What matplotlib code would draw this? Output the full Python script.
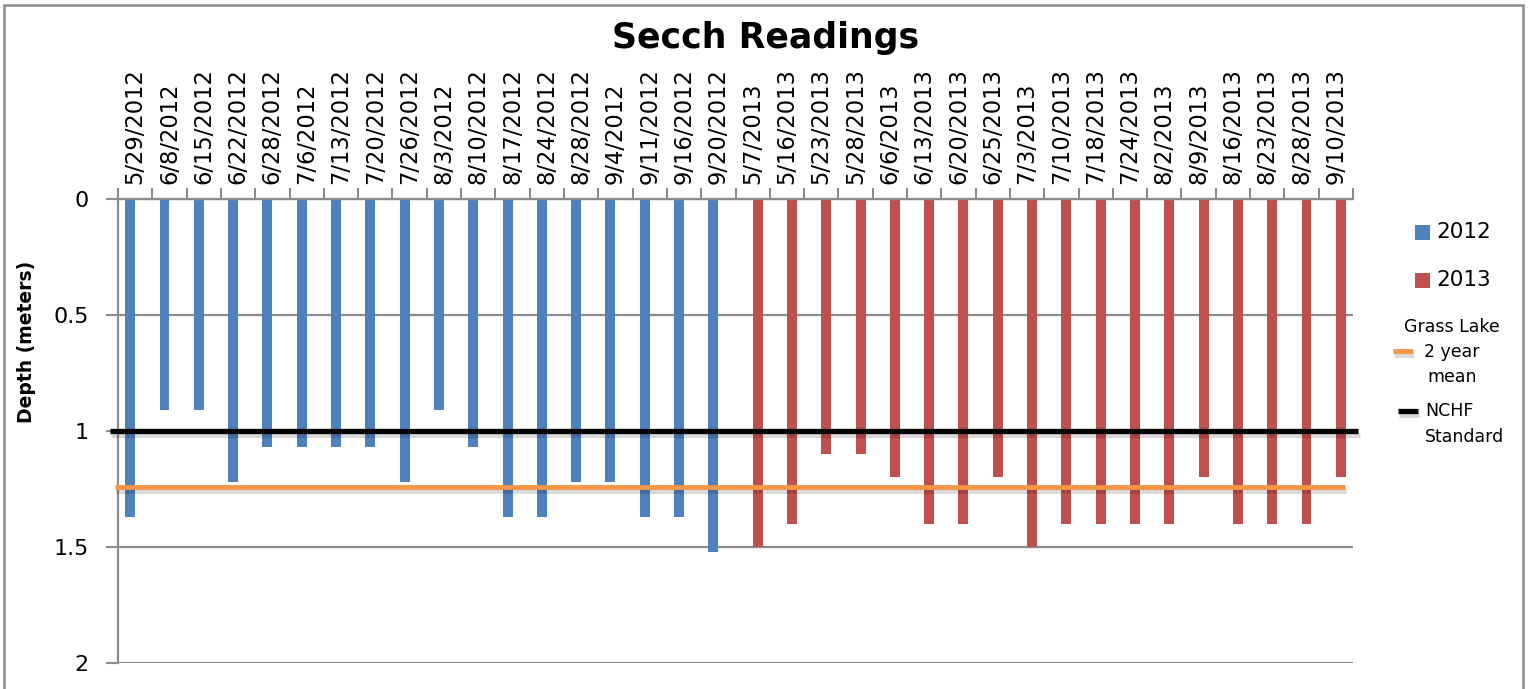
import matplotlib
matplotlib.use("Agg")
import matplotlib.pyplot as plt
import matplotlib.patheffects as pe
from matplotlib.patches import Rectangle
from matplotlib.lines import Line2D
import numpy as np

dates_2012 = ["5/29/2012", "6/8/2012", "6/15/2012", "6/22/2012", "6/28/2012", "7/6/2012",
              "7/13/2012", "7/20/2012", "7/26/2012", "8/3/2012", "8/10/2012", "8/17/2012",
              "8/24/2012", "8/28/2012", "9/4/2012", "9/11/2012", "9/16/2012", "9/20/2012"]
depth_2012 = [1.37, 0.91, 0.91, 1.22, 1.07, 1.07, 1.07, 1.07, 1.22, 0.91, 1.07, 1.37,
              1.37, 1.22, 1.22, 1.37, 1.37, 1.52]
dates_2013 = ["5/7/2013", "5/16/2013", "5/23/2013", "5/28/2013", "6/6/2013", "6/13/2013",
              "6/20/2013", "6/25/2013", "7/3/2013", "7/10/2013", "7/18/2013", "7/24/2013",
              "8/2/2013", "8/9/2013", "8/16/2013", "8/23/2013", "8/28/2013", "9/10/2013"]
depth_2013 = [1.5, 1.4, 1.1, 1.1, 1.2, 1.4, 1.4, 1.2, 1.5, 1.4, 1.4, 1.4,
              1.4, 1.2, 1.4, 1.4, 1.4, 1.2]
mean_2yr = 1.24
nchf_standard = 1.0
yticks = [0, 0.5, 1, 1.5, 2]
ytick_labels = ["0", "0.5", "1", "1.5", "2"]

BLUE = "#4F81BD"
RED = "#C0504D"
ORANGE = "#F79646"
GRID = "#8C8C8C"

W, H = 1530, 689
fig = plt.figure(figsize=(W / 100, H / 100), dpi=100)
ax = fig.add_axes([118 / W, 1 - 663 / H, (1353 - 118) / W, (663 - 199) / H])

labels = dates_2012 + dates_2013
n = len(labels)
x12 = np.arange(len(dates_2012))
x13 = np.arange(len(dates_2012), n)
bw = 0.29
off = 0.145
ax.bar(x12 - off, depth_2012, width=bw, color=BLUE, zorder=2)
ax.bar(x13 + off, depth_2013, width=bw, color=RED, zorder=2)

shadow = [pe.SimpleLineShadow(offset=(1, -3), alpha=0.15, shadow_color="black"), pe.Normal()]
ax.plot([-0.587, 35.27], [mean_2yr, mean_2yr], color=ORANGE, lw=3.5, zorder=3,
        clip_on=False, solid_capstyle="butt", path_effects=shadow)
ax.plot([-0.733, 35.65], [nchf_standard, nchf_standard], color="black", lw=3.8, zorder=4,
        clip_on=False, solid_capstyle="butt", path_effects=shadow)

ax.set_xlim(-0.5, n - 0.5)
ax.set_ylim(2, 0)
ax.set_yticks(yticks)
ax.set_yticklabels(ytick_labels, fontsize=16)
ax.yaxis.grid(True, color=GRID, lw=1.6, zorder=0)
ax.set_axisbelow(True)

# category axis at top
ax.xaxis.tick_top()
ax.set_xticks(np.arange(n))
ax.set_xticklabels(labels, rotation=90, fontsize=16.3)
ax.set_xticks(np.arange(n + 1) - 0.5, minor=True)
ax.tick_params(axis="x", which="major", length=0, pad=11)
ax.tick_params(axis="x", which="minor", length=8, width=1.5, color=GRID, direction="out")
ax.tick_params(axis="y", length=9, width=1.5, color=GRID, pad=12)

for s in ["right", "bottom"]:
    ax.spines[s].set_visible(False)
ax.spines["left"].set_color(GRID)
ax.spines["left"].set_linewidth(1.6)
ax.spines["top"].set_color(GRID)
ax.spines["top"].set_linewidth(1.6)

ax.set_ylabel("Depth (meters)", fontsize=13.5, fontweight="bold")
ax.yaxis.set_label_coords((36 - 118) / (1353 - 118), (663 - 342) / (663 - 199))

fig.text(766 / W, 1 - 48 / H, "Secch Readings", ha="center", va="baseline",
         fontsize=25, fontweight="bold")

# legend (drawn in figure pixel coordinates)
def fx(px):
    return px / W

def fy(py):
    return 1 - py / H

fig.add_artist(Rectangle((fx(1415), fy(240)), 15 / W, 15 / H, transform=fig.transFigure,
                         facecolor=BLUE, edgecolor="none"))
fig.text(fx(1436), fy(232), "2012", ha="left", va="center", fontsize=15.5)
fig.add_artist(Rectangle((fx(1415), fy(288)), 15 / W, 15 / H, transform=fig.transFigure,
                         facecolor=RED, edgecolor="none"))
fig.text(fx(1436), fy(280), "2013", ha="left", va="center", fontsize=15.5)

fig.add_artist(Line2D([fx(1393), fx(1413)], [fy(351), fy(351)], transform=fig.transFigure,
                      color=ORANGE, lw=3.5, solid_capstyle="butt", path_effects=shadow))
fig.text(fx(1452), fy(352), "Grass Lake\n2 year\nmean", ha="center", va="center",
         multialignment="center", fontsize=12.5, linespacing=1.5)

fig.add_artist(Line2D([fx(1398), fx(1418)], [fy(411), fy(411)], transform=fig.transFigure,
                      color="black", lw=3.8, solid_capstyle="butt", path_effects=shadow))
fig.text(fx(1425), fy(424), "NCHF\nStandard", ha="left", va="center",
         multialignment="left", fontsize=12.5, linespacing=1.5)

fig.add_artist(Rectangle((4 / W, -0.02), (1523 - 4) / W, 1 - 5 / H + 0.02,
                         transform=fig.transFigure, fill=False, edgecolor=GRID,
                         lw=1.8, clip_on=False))

fig.savefig("out.png", dpi=100)
